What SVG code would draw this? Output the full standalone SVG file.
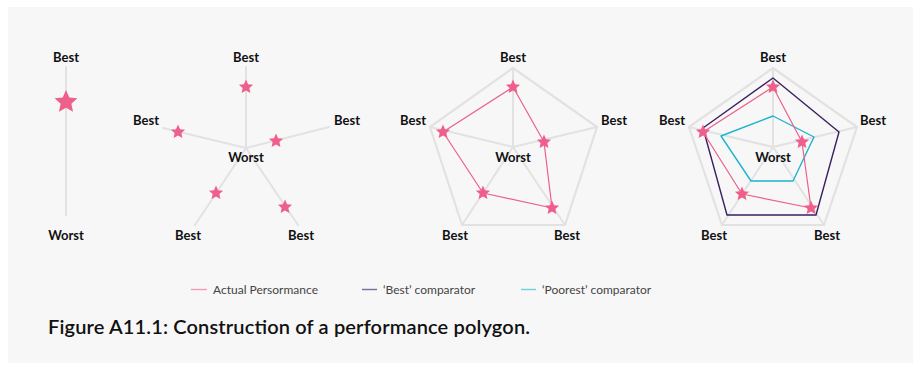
<svg xmlns="http://www.w3.org/2000/svg" xmlns:xlink="http://www.w3.org/1999/xlink" width="921" height="365" viewBox="0 0 921 365">
  <style>
    .axis { stroke: #e2e2e2; stroke-width: 2; fill: none; stroke-linecap: round; }
    .frame { stroke: #e2e2e2; stroke-width: 2.2; fill: none; stroke-linejoin: round; }
    .lbl { font-family: Lato, "Open Sans", "Liberation Sans", sans-serif; font-weight: 700; font-size: 13px; fill: #111; text-anchor: middle; }
    .actual { stroke: #ec5f8c; stroke-width: 1.2; fill: none; stroke-linejoin: round; }
    .best { stroke: #3a2060; stroke-width: 1.4; fill: none; stroke-linejoin: round; }
    .poor { stroke: #1db4cc; stroke-width: 1.4; fill: none; stroke-linejoin: round; }
    .star { fill: #ef5f8b; }
    .leg { font-family: Lato, "Open Sans", "Liberation Sans", sans-serif; font-size: 12px; fill: #444; }
    .title { font-family: Lato, "Open Sans", "Liberation Sans", sans-serif; font-weight: 600; font-size: 20px; fill: #111; }
  </style>
  <defs>
    <path id="star" d="M0,-1 L0.276,-0.380 L0.951,-0.309 L0.447,0.145 L0.588,0.809 L0,0.47 L-0.588,0.809 L-0.447,0.145 L-0.951,-0.309 L-0.276,-0.380 Z"/>
  </defs>

  <!-- panel background -->
  <rect x="8" y="7" width="905" height="356" fill="#f7f7f7"/>

  <!-- single axis -->
  <g id="single-axis">
    <line class="axis" x1="66" y1="67" x2="66" y2="215"/>
    <use xlink:href="#star" class="star" transform="translate(66,102) scale(12)"/>
    <text class="lbl" x="66" y="62">Best</text>
    <text class="lbl" x="66" y="240">Worst</text>
  </g>

  <!-- five axes -->
  <g id="five-axes">
    <path class="axis" d="M246,148 L246,67 M246,148 L329,127 M246,148 L163,128 M246,148 L195,225 M246,148 L298,225"/>
    <use xlink:href="#star" class="star" transform="translate(246,87) scale(7.5)"/>
    <use xlink:href="#star" class="star" transform="translate(276,141) scale(7.5)"/>
    <use xlink:href="#star" class="star" transform="translate(178,132) scale(7.5)"/>
    <use xlink:href="#star" class="star" transform="translate(216,193) scale(7.5)"/>
    <use xlink:href="#star" class="star" transform="translate(285,207) scale(7.5)"/>
    <text class="lbl" x="246" y="62">Best</text>
    <text class="lbl" x="347" y="125">Best</text>
    <text class="lbl" x="146" y="125">Best</text>
    <text class="lbl" x="188" y="240">Best</text>
    <text class="lbl" x="301" y="240">Best</text>
    <text class="lbl" x="246" y="162">Worst</text>
  </g>

  <!-- pentagon with actual performance -->
  <g id="pentagon-actual">
    <path class="axis" d="M513,147 L513,68 M513,147 L597,127 M513,147 L430,127 M513,147 L462,225 M513,147 L565,225"/>
    <polygon class="frame" points="513,68 597,127 565,225 462,225 430,127"/>
    <polygon class="actual" points="513,87 544,142 552,208 483,193 443,132"/>
    <use xlink:href="#star" class="star" transform="translate(513,87) scale(7.5)"/>
    <use xlink:href="#star" class="star" transform="translate(544,142) scale(7.5)"/>
    <use xlink:href="#star" class="star" transform="translate(552,208) scale(7.5)"/>
    <use xlink:href="#star" class="star" transform="translate(483,193) scale(7.5)"/>
    <use xlink:href="#star" class="star" transform="translate(443,132) scale(7.5)"/>
    <text class="lbl" x="513" y="62">Best</text>
    <text class="lbl" x="614" y="125">Best</text>
    <text class="lbl" x="413" y="125">Best</text>
    <text class="lbl" x="455" y="240">Best</text>
    <text class="lbl" x="567" y="240">Best</text>
    <text class="lbl" x="513" y="162">Worst</text>
  </g>

  <!-- pentagon with comparators -->
  <g id="pentagon-comparators">
    <path class="axis" d="M773,147 L773,68 M773,147 L857,127 M773,147 L689,127 M773,147 L722,225 M773,147 L824,225"/>
    <polygon class="frame" points="773,68 857,127 824,225 722,225 689,127"/>
    <polygon class="best" points="773,78 839,132 816,215 727,215 703,128"/>
    <polygon class="poor" points="773,116 814,137 793,181 751,181 721,136"/>
    <polygon class="actual" points="773,87 802,142 811,208 742,194 703,132"/>
    <use xlink:href="#star" class="star" transform="translate(773,87) scale(7.5)"/>
    <use xlink:href="#star" class="star" transform="translate(802,142) scale(7.5)"/>
    <use xlink:href="#star" class="star" transform="translate(811,208) scale(7.5)"/>
    <use xlink:href="#star" class="star" transform="translate(742,194) scale(7.5)"/>
    <use xlink:href="#star" class="star" transform="translate(703,132) scale(7.5)"/>
    <text class="lbl" x="773" y="62">Best</text>
    <text class="lbl" x="873" y="125">Best</text>
    <text class="lbl" x="672" y="125">Best</text>
    <text class="lbl" x="714" y="240">Best</text>
    <text class="lbl" x="827" y="240">Best</text>
    <text class="lbl" x="773" y="162">Worst</text>
  </g>

  <!-- legend -->
  <g id="legend">
    <line x1="191" y1="289.5" x2="207" y2="289.5" stroke="#f39ab6" stroke-width="1.4"/>
    <text class="leg" x="213" y="294">Actual Persormance</text>
    <line x1="362" y1="289.5" x2="377" y2="289.5" stroke="#7d6c98" stroke-width="1.4"/>
    <text class="leg" x="383" y="294">‘Best’ comparator</text>
    <line x1="521" y1="289.5" x2="536" y2="289.5" stroke="#6fd0e0" stroke-width="1.4"/>
    <text class="leg" x="542" y="294">‘Poorest’ comparator</text>
  </g>

  <text class="title" x="48" y="334" textLength="482" lengthAdjust="spacing">Figure A11.1: Construction of a performance polygon.</text>
</svg>
